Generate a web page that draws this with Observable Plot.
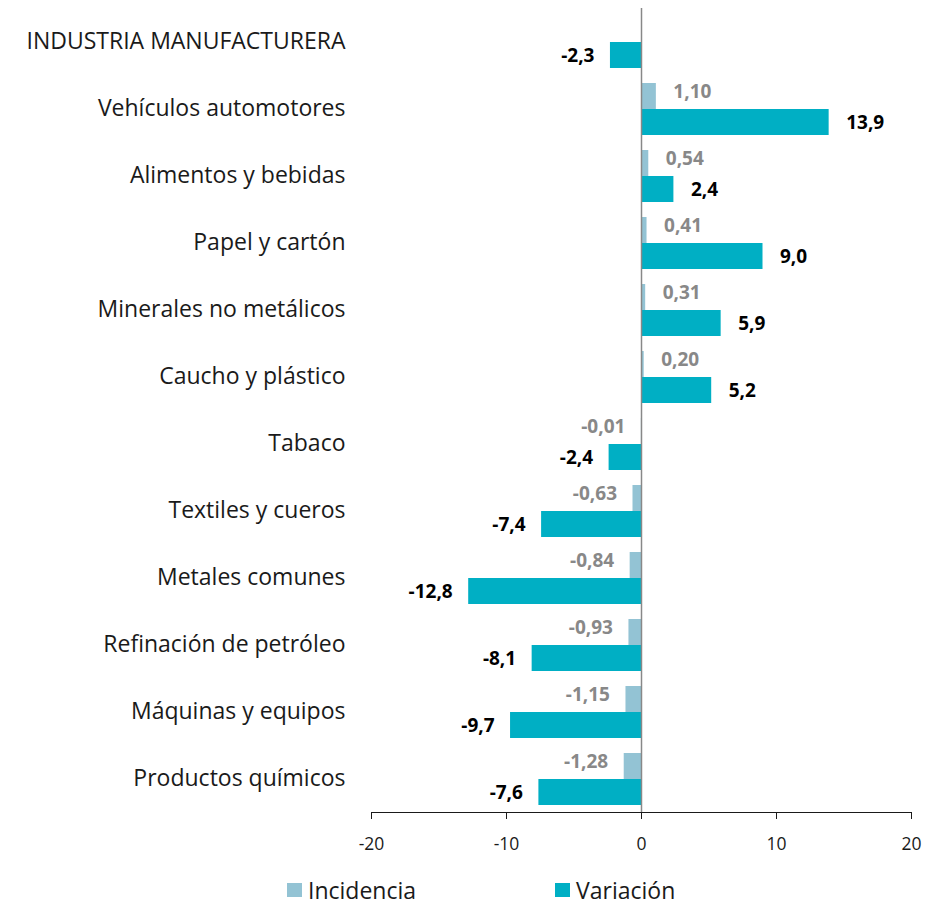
<!DOCTYPE html>
<html>
<head>
<meta charset="utf-8">
<script src="https://cdn.jsdelivr.net/npm/d3@7"></script>
<script src="https://cdn.jsdelivr.net/npm/@observablehq/plot@0.6"></script>
<style>
  body { margin: 0; background: #fff; font-family: "Open Sans", sans-serif; overflow: hidden; }
  #wrap { position: relative; width: 926px; height: 907px; }
  #legend { position: absolute; left: 0; top: 877px; width: 926px; height: 26px; font-size: 23px; line-height: 26px; color: #1a1a1a; }
  .item { position: absolute; top: 0; height: 26px; display: flex; align-items: center; }
  .sw { width: 15px; height: 14px; margin-right: 6px; }
</style>
</head>
<body>
<div id="wrap">
  <div id="chart"></div>
  <div id="legend"></div>
</div>
<script>
const categories = [
  "INDUSTRIA MANUFACTURERA",
  "Vehículos automotores",
  "Alimentos y bebidas",
  "Papel y cartón",
  "Minerales no metálicos",
  "Caucho y plástico",
  "Tabaco",
  "Textiles y cueros",
  "Metales comunes",
  "Refinación de petróleo",
  "Máquinas y equipos",
  "Productos químicos"
];
const incidencia = [null, 1.10, 0.54, 0.41, 0.31, 0.20, -0.01, -0.63, -0.84, -0.93, -1.15, -1.28];
const variacion = [-2.3, 13.9, 2.4, 9.0, 5.9, 5.2, -2.4, -7.4, -12.8, -8.1, -9.7, -7.6];
const series = ["Incidencia", "Variación"];
const colors = ["#93C3D4", "#00AFC4"];
const xTicks = [-20, -10, 0, 10, 20];

const rows = [];
categories.forEach((c, i) => {
  if (incidencia[i] != null) rows.push({cat: c, serie: "Incidencia", value: incidencia[i]});
  rows.push({cat: c, serie: "Variación", value: variacion[i]});
});
const inc = rows.filter(d => d.serie === "Incidencia");
const vari = rows.filter(d => d.serie === "Variación");
const fmt = (d, n) => d.value.toFixed(n).replace(".", ",");

const chart = Plot.plot({
  width: 926,
  height: 870,
  marginLeft: 371,
  marginRight: 15,
  marginTop: 7,
  marginBottom: 57,
  style: {fontFamily: "'Open Sans', sans-serif", color: "#1a1a1a", background: "#fff", fontSize: "17.5px"},
  x: {domain: [-20, 20], ticks: xTicks, tickFormat: d => String(d), tickSize: 7, tickPadding: 18, line: true, label: null},
  y: {domain: series, axis: null, paddingInner: 0, paddingOuter: 0.26},
  fy: {domain: categories, padding: 0, label: null, axis: null},
  color: {domain: series, range: colors},
  marks: [
    Plot.barX(rows, {fy: "cat", y: "serie", x: "value", fill: "serie"}),
    Plot.ruleX([0], {stroke: "#888", strokeWidth: 1.5}),
    Plot.axisFy({anchor: "left", tickSize: 0, tickPadding: 26, fontSize: 23, label: null}),
    Plot.text(inc.filter(d => d.value >= 0), {fy: "cat", y: "serie", x: "value", text: d => fmt(d, 2), textAnchor: "start", dx: 17, dy: -5, fill: "#888", fontWeight: "bold", fontSize: 19}),
    Plot.text(inc.filter(d => d.value < 0), {fy: "cat", y: "serie", x: "value", text: d => fmt(d, 2), textAnchor: "end", dx: -16, dy: -5, fill: "#888", fontWeight: "bold", fontSize: 19}),
    Plot.text(vari.filter(d => d.value >= 0), {fy: "cat", y: "serie", x: "value", text: d => fmt(d, 1), textAnchor: "start", dx: 17, fill: "#000", fontWeight: "bold", fontSize: 19}),
    Plot.text(vari.filter(d => d.value < 0), {fy: "cat", y: "serie", x: "value", text: d => fmt(d, 1), textAnchor: "end", dx: -16, fill: "#000", fontWeight: "bold", fontSize: 19})
  ]
});
document.getElementById("chart").appendChild(chart);

const legend = document.getElementById("legend");
const lx = [287, 555];
series.forEach((s, i) => {
  const it = document.createElement("div");
  it.className = "item";
  it.style.left = lx[i] + "px";
  const sw = document.createElement("span");
  sw.className = "sw";
  sw.style.background = colors[i];
  const t = document.createElement("span");
  t.textContent = s;
  it.appendChild(sw); it.appendChild(t);
  legend.appendChild(it);
});
</script>
</body>
</html>
